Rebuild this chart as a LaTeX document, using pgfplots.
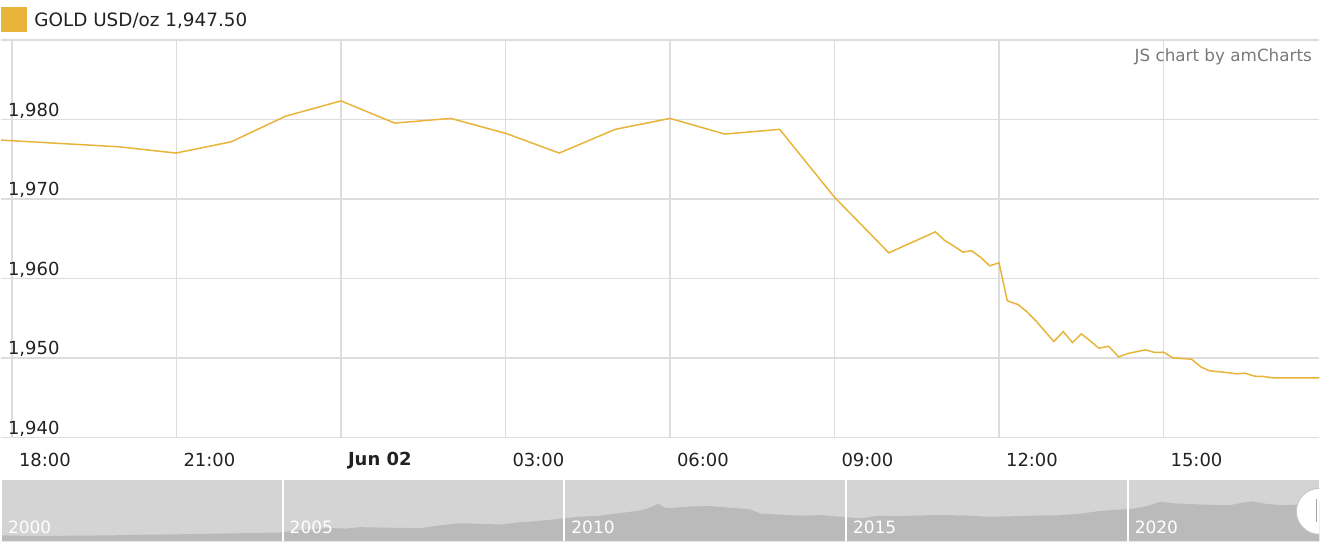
\documentclass[border=0pt]{standalone}
\usepackage{fontspec}
\setmainfont{DejaVu Sans}
\usepackage{pgfplots}
\pgfplotsset{compat=1.18}
\definecolor{gold}{HTML}{E8B43A}
\definecolor{gridgray}{HTML}{DDDDDD}
\definecolor{navbg}{HTML}{D4D4D4}
\definecolor{navfill}{HTML}{BABABA}
\definecolor{ink}{HTML}{222222}

% price line, hours after 18:00 (Jun 01)
\pgfplotstableread{
h      v
-0.20  1977.40
1.95   1976.56
2.99   1975.77
4.00   1977.19
4.99   1980.41
6.00   1982.33
6.98   1979.54
8.00   1980.13
9.01   1978.24
9.98   1975.77
11.00  1978.75
12.00  1980.13
13.00  1978.16
14.00  1978.75
15.00  1970.21
15.99  1963.22
16.84  1965.86
17.01  1964.77
17.16  1964.14
17.34  1963.31
17.50  1963.48
17.67  1962.63
17.83  1961.59
18.00  1961.97
18.15  1957.20
18.35  1956.70
18.50  1955.86
18.68  1954.60
19.00  1952.06
19.17  1953.31
19.34  1951.93
19.50  1953.02
19.65  1952.22
19.82  1951.22
20.00  1951.47
20.18  1950.14
20.35  1950.55
20.50  1950.77
20.67  1951.02
20.84  1950.68
21.00  1950.72
21.17  1950.01
21.51  1949.84
21.69  1948.83
21.84  1948.38
22.14  1948.17
22.33  1948.00
22.49  1948.08
22.66  1947.70
22.81  1947.67
22.99  1947.50
23.84  1947.50
}\pricedata

% long-range navigator series
\pgfplotstableread{
yr       p
2000.00  290
2000.35  270
2000.89  265
2001.42  275
2001.95  290
2002.48  320
2002.84  330
2003.37  350
2003.90  380
2004.43  400
2004.96  430
2005.32  560
2005.59  600
2005.85  650
2006.12  620
2006.38  690
2006.91  660
2007.45  640
2007.80  780
2008.16  880
2008.51  850
2008.87  820
2009.22  930
2009.57  1000
2009.93  1100
2010.28  1200
2010.64  1250
2010.99  1380
2011.35  1500
2011.52  1640
2011.67  1850
2011.77  1650
2011.88  1620
2012.23  1700
2012.59  1720
2012.94  1640
2013.30  1560
2013.48  1350
2013.83  1300
2014.18  1250
2014.54  1280
2014.89  1200
2015.25  1120
2015.60  1250
2015.96  1230
2016.49  1280
2017.02  1270
2017.55  1200
2018.09  1230
2018.44  1260
2018.79  1270
2019.15  1340
2019.50  1480
2019.86  1550
2020.12  1600
2020.39  1750
2020.57  1930
2020.83  1850
2021.10  1820
2021.45  1780
2021.81  1760
2022.07  1900
2022.20  1950
2022.43  1840
2022.70  1760
2022.96  1780
2023.40  1950
}\navdata

\begin{document}
\begin{tikzpicture}[x=1pt,y=1pt]
\path (0,0) rectangle (660,276);

\begin{axis}[
  at={(0pt,57pt)}, anchor=south west,
  scale only axis, width=660pt, height=199pt,
  xmin=-0.2, xmax=23.84, ymin=1940, ymax=1990,
  xtick={0,3,...,21},
  xticklabels={18:00,21:00,\textbf{Jun 02},03:00,06:00,09:00,12:00,15:00},
  ytick={1940,1950,...,1990},
  yticklabels={{1,940},{1,950},{1,960},{1,970},{1,980},{}},
  grid=major,
  major grid style={draw=gridgray, line width=0.75pt},
  axis line style={draw=none},
  major tick length=0pt,
  tick label style={font=\fontsize{9}{10}\selectfont, text=ink},
  yticklabel style={anchor=base west, yshift=1.5pt},
  xticklabel style={anchor=west, yshift=-11.5pt},
]
\addplot[gold, line width=0.75pt] table[x=h, y=v] {\pricedata};
\end{axis}

\begin{axis}[
  at={(0pt,5pt)}, anchor=south west,
  scale only axis, width=660pt, height=30.5pt,
  xmin=2000, xmax=2023.4, ymin=0, ymax=2976,
  axis background/.style={fill=navbg},
  axis on top,
  axis line style={draw=none},
  major tick length=0pt,
  xtick={2000,2005,...,2020},
  xticklabels={2000,2005,2010,2015,2020},
  ytick=\empty,
  xmajorgrids,
  major grid style={draw=white, line width=1pt},
  xticklabel style={anchor=base west, yshift=4pt, text=white,
                    font=\fontsize{8.5}{10}\selectfont},
]
\addplot[fill=navfill, draw=none] table[x=yr, y=p] {\navdata} \closedcycle;
\end{axis}

% navigator handle (cut at the right edge)
\fill[white] (660,31.5) arc[start angle=90, end angle=270, radius=11.5] -- cycle;
\draw[gray!45, line width=0.5pt] (660,31.5) arc[start angle=90, end angle=270, radius=11.5];
\draw[gray!70, line width=0.6pt] (658.5,14.5) -- (658.5,26);

% legend and credit
\fill[gold] (0,260) rectangle (13,272.5);
\node[anchor=base west, inner sep=0, text=ink, font=\fontsize{9.2}{10}\selectfont]
  at (16.5,262.5) {GOLD USD/oz 1,947.50};
\node[anchor=base east, inner sep=0, text=gray!95!black, font=\fontsize{8.4}{10}\selectfont]
  at (656.5,245) {JS chart by amCharts};
\end{tikzpicture}
\end{document}
